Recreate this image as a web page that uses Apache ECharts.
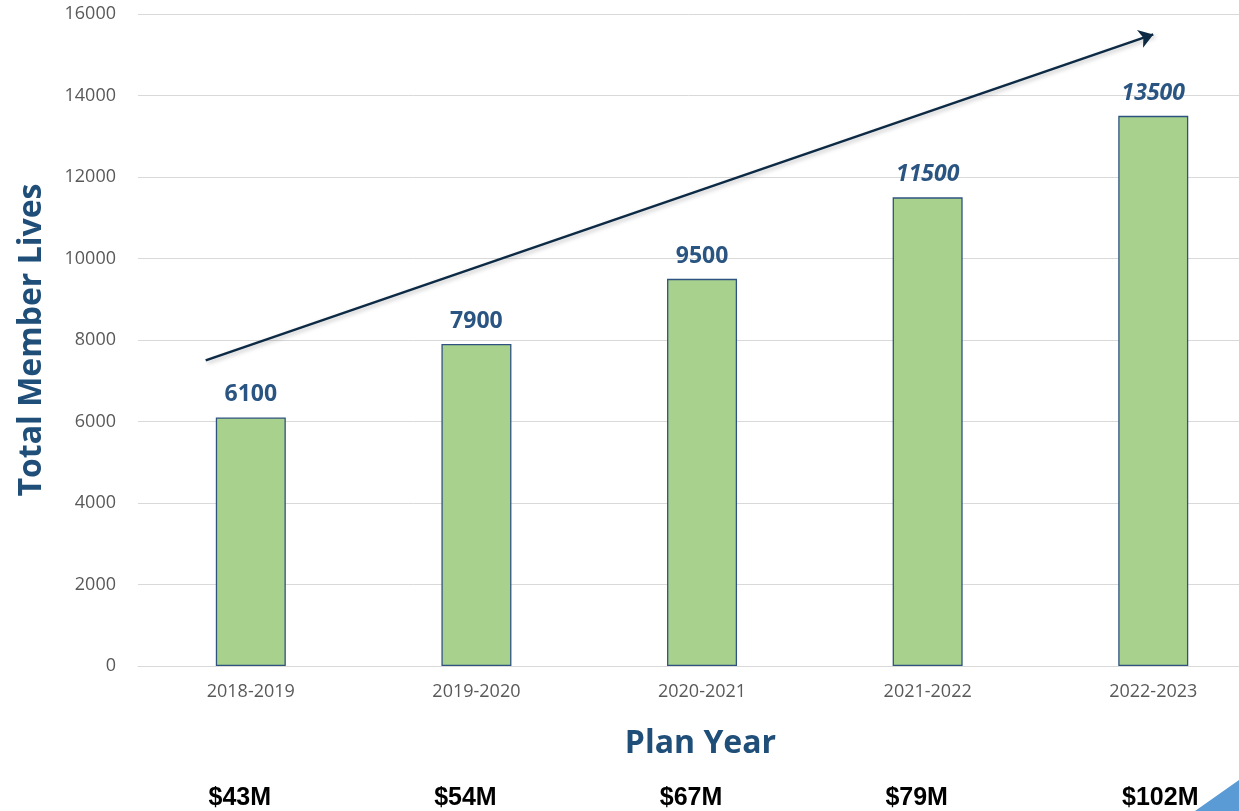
<!DOCTYPE html>
<html><head><meta charset="utf-8">
<script src="https://cdn.jsdelivr.net/npm/echarts@6/dist/echarts.min.js"></script>
<style>html,body{margin:0;padding:0;background:#fff}#c{width:1239px;height:811px}</style>
</head><body><div id="c"></div>
<script>
const categories = ['2018-2019','2019-2020','2020-2021','2021-2022','2022-2023'];
const memberLives = [6100, 7900, 9500, 11500, 13500];
const italicLabel = [false, false, false, true, true];
const revenue = ['$43M','$54M','$67M','$79M','$102M'];
const yTicks = {min: 0, max: 16000, interval: 2000};
const trendArrow = [[-0.2, 7500], [4.0, 15500]];

const idx = categories.map((c, i) => i);
const xRange = {min: -0.5, max: 4.38};
const chart = echarts.init(document.getElementById('c'));
const labelColor = '#2a5582';
chart.setOption({
  animation: false,
  grid: {left: 138, right: 0, top: 14, height: 654, containLabel: false},
  xAxis: [
    {type: 'value', min: xRange.min, max: xRange.max, splitLine: {show: false}, axisTick: {show: false},
     axisLine: {show: true, onZero: false, lineStyle: {color: '#d9d9d9'}},
     axisLabel: {customValues: idx, formatter: v => categories[Math.round(v)] || '', color: '#595959', fontSize: 18, fontFamily: 'Open Sans', margin: 17},
     name: 'Plan Year', nameLocation: 'middle', nameGap: 62,
     nameTextStyle: {color: '#1f4e79', fontSize: 32, fontWeight: 'bold', fontFamily: 'Open Sans', padding: [0, 0, 0, 24]}},
    {type: 'value', min: xRange.min, max: xRange.max, position: 'bottom', offset: 112,
     splitLine: {show: false}, axisTick: {show: false}, axisLine: {show: false},
     axisLabel: {customValues: idx,
       formatter: v => { const i = Math.round(v); return (i === 4 ? '{b|' : '{a|') + revenue[i] + '}'; },
       color: '#000', fontSize: 25, fontWeight: 'bold', fontFamily: 'Liberation Sans',
       rich: {a: {fontSize: 25, fontWeight: 'bold', fontFamily: 'Liberation Sans', color: '#000', padding: [0, 22, 0, 0]},
              b: {fontSize: 25, fontWeight: 'bold', fontFamily: 'Liberation Sans', color: '#000', padding: [0, 0, 0, 14]}}}}
  ],
  yAxis: {type: 'value', min: yTicks.min, max: yTicks.max, interval: yTicks.interval,
    axisLine: {show: false}, axisTick: {show: false},
    splitLine: {lineStyle: {color: '#d9d9d9', width: 1}},
    axisLabel: {color: '#595959', fontSize: 18, fontFamily: 'Open Sans', margin: 22, formatter: v => String(v)},
    name: 'Total Member Lives', nameLocation: 'middle', nameGap: 90,
    nameTextStyle: {color: '#1f4e79', fontSize: 32, fontWeight: 'bold', fontFamily: 'Open Sans'}},
  series: [
    {type: 'bar', xAxisIndex: 0, barWidth: 70,
     data: memberLives.map((v, i) => ({value: [i, v], label: {fontStyle: italicLabel[i] ? 'italic' : 'normal'}})),
     itemStyle: {color: '#a9d18e', borderColor: '#2f5380', borderWidth: 1.3},
     label: {show: true, position: 'top', distance: 11, color: labelColor, fontSize: 23, fontWeight: 'bold', fontFamily: 'Open Sans',
       formatter: p => String(p.value[1])}},
    {type: 'lines', coordinateSystem: 'cartesian2d', xAxisIndex: 0, yAxisIndex: 0,
     symbol: ['none', 'arrow'], symbolSize: 14,
     lineStyle: {color: '#0d2a45', width: 2.5, opacity: 1,
       shadowColor: 'rgba(0,0,0,0.25)', shadowBlur: 4, shadowOffsetX: 2, shadowOffsetY: 2},
     data: [{coords: trendArrow}], z: 5}
  ],
  graphic: [{type: 'polygon', left: 1195, top: 780, z: -1,
    shape: {points: [[0, 31], [44, 0], [44, 31]]}, style: {fill: '#5b9bd5'}}]
});
</script></body></html>
